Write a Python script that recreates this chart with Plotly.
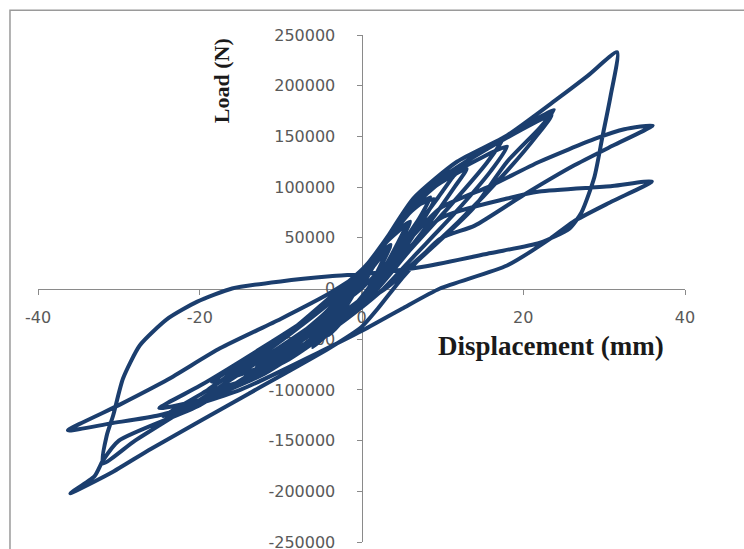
import plotly.graph_objects as go

# Cyclic load test: displacement (mm) and load (N), in test order
displacement = [
    0.0, 1.5, 3.2, 2.3, 1.0, -1.2, -3.5, -2.6, -1.0, 0.6,
    2.0, 3.6, 2.6, 1.2, -1.5, -4.0, -3.0, -1.2, 0.8,
    3.0, 5.5, 4.3, 2.2, 0.2, -3.0, -6.0, -4.6, -2.0, 0.3,
    3.2, 6.0, 4.8, 2.5, 0.0, -3.5, -6.5, -5.0, -2.2, 0.5,
    3.0, 6.0, 8.5, 7.2, 4.5, 2.0, -1.5, -5.5, -9.0, -11.0, -8.0, -4.0, -1.0, 1.0,
    3.5, 6.5, 9.0, 7.5, 4.5, 1.5, -2.5, -6.5, -10.0, -7.0, -3.5, -0.5, 1.5,
    4.0, 8.0, 12.5, 11.3, 9.5, 6.0, 3.0, 0.0, -4.0, -8.5, -12.0, -9.0, -4.5, -1.0, 2.0,
    5.0, 9.0, 13.0, 11.5, 8.5, 5.0, 2.0, -2.0, -7.0, -13.0, -9.5, -5.0, -1.5, 1.5,
    6.0, 12.0, 17.5, 15.5, 11.0, 6.0, 2.0, -3.0, -9.0, -15.0, -18.5, -14.5, -8.5, -3.5, 0.5,
    5.5, 11.0, 18.0, 16.0, 11.5, 6.5, 2.5, -2.5, -9.0, -15.0, -19.0, -15.0, -9.0, -3.0, 1.0,
    5.0, 11.0, 17.0, 23.8, 22.0, 18.0, 13.8, 8.0, 3.0, -2.0, -8.0, -14.0, -20.0, -24.5,
    -19.0, -12.0, -6.0, -1.0, 3.0,
    8.0, 15.0, 23.5, 21.8, 18.0, 12.0, 6.0, 1.0, -5.0, -12.0, -19.0, -25.0,
    -20.0, -13.0, -6.0, -1.0, 2.3,
    6.4, 11.8, 18.0, 24.2, 28.0, 31.6, 30.8, 29.8, 28.8, 27.2, 25.7, 22.0, 16.0, 8.0,
    1.3, -3.9, -10.0, -16.0, -20.3, -24.0, -27.4, -29.5, -30.7, -31.5, -32.0,
    -28.0, -20.0, -12.0, -5.0, 0.0, 5.0, 9.7, 15.9, 22.0, 29.0, 32.5, 36.0,
    31.1, 26.2, 20.0, 14.0, 9.7, 5.0, 2.0, 0.0, -4.0, -14.0, -26.0, -31.0, -36.0,
    -33.0, -32.0, -30.0, -20.0, -10.0, 0.0, 9.7, 18.0, 22.0, 31.0, 35.9,
    31.0, 26.2, 23.3, 18.0, 9.7, 5.0, 0.0, -5.0, -15.0, -25.0, -31.0, -36.3,
    -30.0, -24.0, -17.5, -10.0, -4.0, 0.0,
]
load = [
    0, 22000, 38000, 22000, 2000, -20000, -42000, -28000, -6000, 14000,
    32000, 43000, 25000, 3000, -24000, -46000, -30000, -8000, 16000,
    45000, 62000, 42000, 12000, -10000, -36000, -58000, -40000, -12000, 14000,
    48000, 66000, 46000, 14000, -14000, -38000, -55000, -38000, -10000, 18000,
    45000, 75000, 90000, 70000, 38000, 8000, -22000, -48000, -62000, -68000, -52000, -26000, 2000, 22000,
    52000, 80000, 88000, 66000, 30000, 0, -30000, -55000, -62000, -48000, -22000, 6000, 28000,
    58000, 94000, 120000, 110000, 90000, 52000, 18000, -14000, -42000, -62000, -72000, -54000, -24000, 6000, 36000,
    68000, 100000, 118000, 100000, 66000, 30000, 0, -30000, -58000, -78000, -60000, -30000, 2000, 30000,
    82000, 120000, 148000, 124000, 82000, 38000, 0, -35000, -66000, -85000, -92000, -72000, -40000, -6000, 22000,
    75000, 112000, 140000, 116000, 74000, 32000, -2000, -34000, -70000, -92000, -100000, -80000, -46000, -8000, 24000,
    70000, 115000, 145000, 176000, 158000, 125000, 79000, 35000, 0, -25000, -60000, -88000, -110000, -126000,
    -100000, -60000, -25000, 10000, 45000,
    98000, 135000, 171000, 152000, 116000, 66000, 22000, -12000, -48000, -84000, -108000, -118000,
    -96000, -62000, -26000, 8000, 40000,
    88700, 125000, 151000, 187000, 210000, 233000, 190000, 150000, 110000, 75000, 59000, 45000, 35000, 22000,
    15000, 12000, 7000, 0, -13000, -30000, -56000, -89000, -125000, -145000, -172500,
    -150000, -110000, -68000, -30000, 0, 40000, 79000, 101000, 125000, 148000, 157000, 160700,
    141000, 121000, 92000, 62000, 49000, 10000, -20000, -38000, -59000, -104000, -158000, -182000, -202000,
    -185000, -170000, -150000, -115000, -65000, -10000, 69000, 88700, 95600, 101000, 105500,
    86000, 66000, 49000, 22700, 0, -20000, -42000, -62000, -100000, -125000, -133000, -140000,
    -115000, -90000, -59000, -30000, -5000, 15000,
]

x_ticks = [-40, -20, 0, 20, 40]
x_tick_text = ["-40", "-20", "0", "20", "40"]
y_ticks = [-250000, -200000, -150000, -100000, -50000, 0, 50000, 100000, 150000, 200000, 250000]
y_tick_text = ["-250000", "-200000", "-150000", "-100000", "-50000", "0",
               "50000", "100000", "150000", "200000", "250000"]

AXIS_GREY = "#8a8a8a"
TICK_FONT = dict(family="DejaVu Sans", size=16, color="#595959")

fig = go.Figure()
fig.add_trace(go.Scatter(
    x=displacement, y=load, mode="lines",
    line=dict(color="#1b3e6e", width=4, shape="spline", smoothing=0.6),
    hoverinfo="skip", showlegend=False,
))

fig.update_layout(
    width=744, height=549,
    margin=dict(l=38, r=59, t=35, b=7, autoexpand=False),
    paper_bgcolor="white", plot_bgcolor="white",
    xaxis=dict(
        range=[-40, 40], tickvals=x_ticks, ticktext=x_tick_text,
        showgrid=False, zeroline=False, automargin=False,
        showline=True, linecolor=AXIS_GREY, linewidth=1,
        ticks="outside", ticklen=5, tickcolor=AXIS_GREY,
        anchor="free", position=0.5, layer="below traces",
        tickfont=TICK_FONT, ticklabelstandoff=9, ticklabeloverflow="allow",
    ),
    yaxis=dict(
        range=[-250000, 250000], tickvals=y_ticks, ticktext=y_tick_text,
        showgrid=False, zeroline=False, automargin=False,
        showline=True, linecolor=AXIS_GREY, linewidth=1,
        ticks="outside", ticklen=5, tickcolor=AXIS_GREY,
        anchor="free", position=0.5, layer="below traces",
        tickfont=TICK_FONT, ticklabelstandoff=18, ticklabeloverflow="allow",
    ),
    annotations=[
        dict(text="<b>Displacement (mm)</b>", xref="paper", yref="paper",
             x=0.793, y=0.387, xanchor="center", yanchor="middle", showarrow=False,
             font=dict(family="Liberation Serif", size=27, color="#1a1a1a")),
        dict(text="<b>Load (N)</b>", xref="paper", yref="paper",
             x=0.283, y=0.909, xanchor="center", yanchor="middle", showarrow=False,
             textangle=-90,
             font=dict(family="Liberation Serif", size=22, color="#1a1a1a")),
    ],
    shapes=[
        dict(type="rect", xref="paper", yref="paper",
             x0=-0.0433, x1=1.2, y0=-0.1, y1=1.049,
             line=dict(color="#9a9a9a", width=1.5), fillcolor="rgba(0,0,0,0)",
             layer="below"),
    ],
)

fig.write_html("out.html")
